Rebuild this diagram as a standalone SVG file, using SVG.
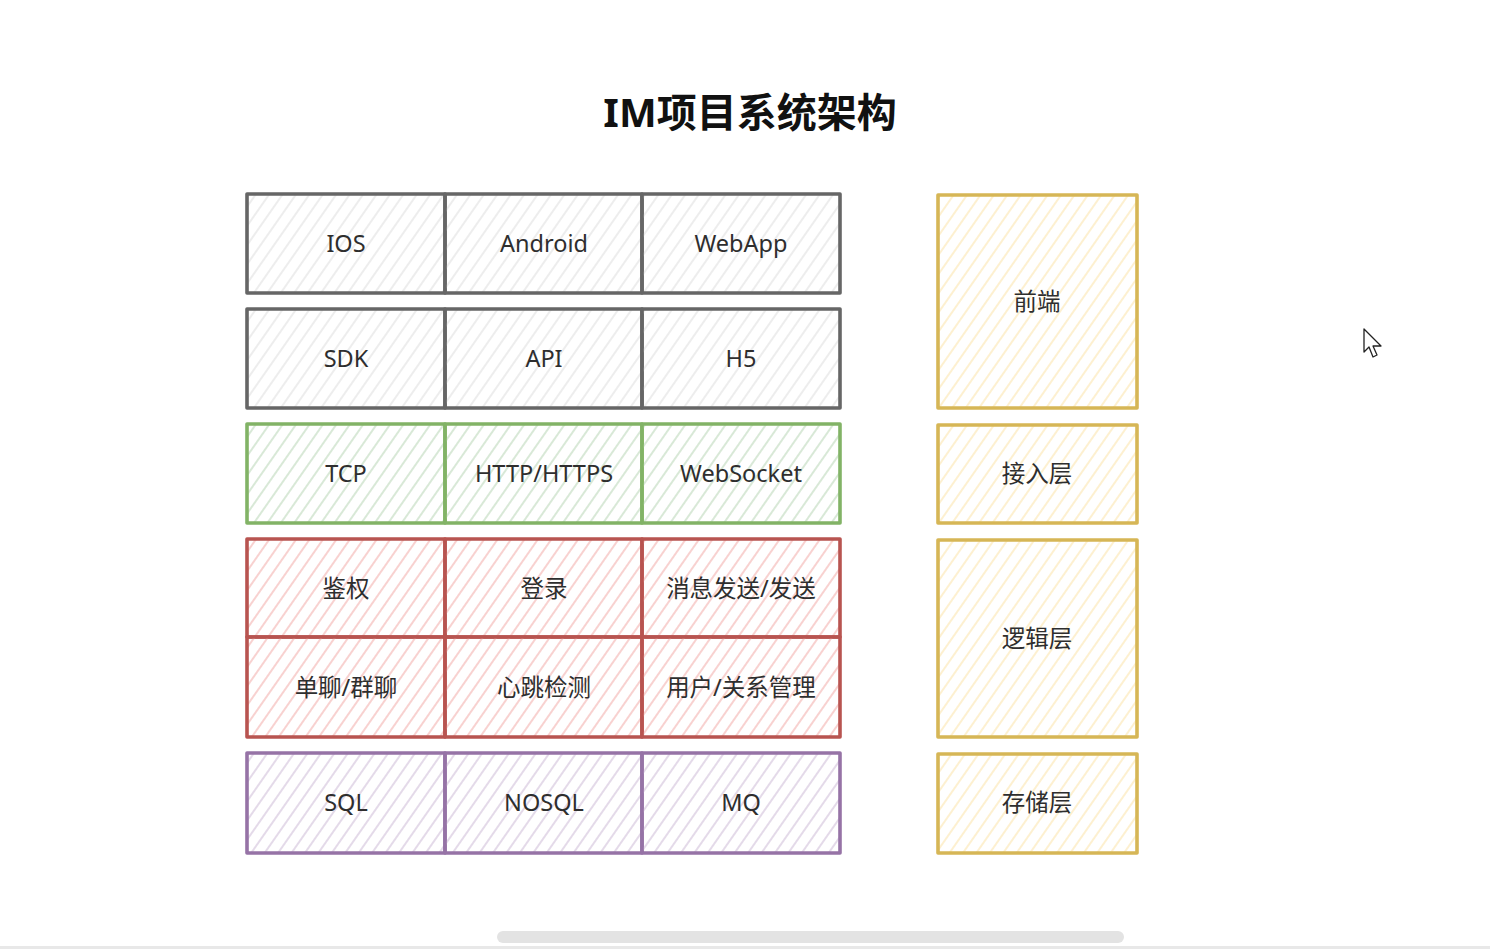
<svg xmlns="http://www.w3.org/2000/svg" width="1490" height="949" viewBox="0 0 1490 949">
<defs>
<pattern id="hGrey" width="11" height="11" patternUnits="userSpaceOnUse" patternTransform="rotate(35)"><line x1="2" y1="0" x2="2" y2="11" stroke="#e6e6e6" stroke-width="1.4"/></pattern>
<pattern id="hGreen" width="11" height="11" patternUnits="userSpaceOnUse" patternTransform="rotate(35)"><line x1="2" y1="0" x2="2" y2="11" stroke="#cfe3cd" stroke-width="1.6"/></pattern>
<pattern id="hRed" width="11" height="11" patternUnits="userSpaceOnUse" patternTransform="rotate(35)"><line x1="2" y1="0" x2="2" y2="11" stroke="#f6c6c4" stroke-width="1.6"/></pattern>
<pattern id="hPurple" width="11" height="11" patternUnits="userSpaceOnUse" patternTransform="rotate(35)"><line x1="2" y1="0" x2="2" y2="11" stroke="#ddd1e4" stroke-width="1.6"/></pattern>
<pattern id="hYellow" width="11" height="11" patternUnits="userSpaceOnUse" patternTransform="rotate(35)"><line x1="2" y1="0" x2="2" y2="11" stroke="#fdedc4" stroke-width="1.6"/></pattern>
</defs>
<style>
.box{stroke-width:3.6;stroke-linejoin:round}
.g{fill:url(#hGrey);stroke:#666666}
.gr{fill:url(#hGreen);stroke:#82b366}
.r{fill:url(#hRed);stroke:#b85450}
.p{fill:url(#hPurple);stroke:#9673a6}
.y{fill:url(#hYellow);stroke:#d6b656}
.t{font-family:"Noto Sans","Open Sans","Noto Sans CJK SC",sans-serif;font-size:23.5px;fill:#2e2e2e;text-anchor:middle;dominant-baseline:central}
.title{font-family:"Noto Sans","Noto Sans CJK SC",sans-serif;font-size:40px;font-weight:bold;fill:#111111;text-anchor:middle}
</style>
<rect width="1490" height="949" fill="#ffffff"/>
<text class="title" x="750" y="127">IM项目系统架构</text>

<g id="ios"><rect class="box g" x="247" y="194" width="198" height="99"/><text class="t" x="346" y="243">IOS</text></g>
<g id="android"><rect class="box g" x="445" y="194" width="197" height="99"/><text class="t" x="544" y="243">Android</text></g>
<g id="webapp"><rect class="box g" x="642" y="194" width="198" height="99"/><text class="t" x="741" y="243">WebApp</text></g>

<g id="sdk"><rect class="box g" x="247" y="309" width="198" height="99"/><text class="t" x="346" y="358">SDK</text></g>
<g id="api"><rect class="box g" x="445" y="309" width="197" height="99"/><text class="t" x="544" y="358">API</text></g>
<g id="h5"><rect class="box g" x="642" y="309" width="198" height="99"/><text class="t" x="741" y="358">H5</text></g>

<g id="tcp"><rect class="box gr" x="247" y="424" width="198" height="99"/><text class="t" x="346" y="473">TCP</text></g>
<g id="http"><rect class="box gr" x="445" y="424" width="197" height="99"/><text class="t" x="544" y="473">HTTP/HTTPS</text></g>
<g id="websocket"><rect class="box gr" x="642" y="424" width="198" height="99"/><text class="t" x="741" y="473">WebSocket</text></g>

<g id="auth"><rect class="box r" x="247" y="539" width="198" height="98"/><text class="t" x="346" y="588">鉴权</text></g>
<g id="login"><rect class="box r" x="445" y="539" width="197" height="98"/><text class="t" x="544" y="588">登录</text></g>
<g id="msg"><rect class="box r" x="642" y="539" width="198" height="98"/><text class="t" x="741" y="588">消息发送/发送</text></g>

<g id="chat"><rect class="box r" x="247" y="637" width="198" height="100"/><text class="t" x="346" y="687">单聊/群聊</text></g>
<g id="heartbeat"><rect class="box r" x="445" y="637" width="197" height="100"/><text class="t" x="544" y="687">心跳检测</text></g>
<g id="user"><rect class="box r" x="642" y="637" width="198" height="100"/><text class="t" x="741" y="687">用户/关系管理</text></g>

<g id="sql"><rect class="box p" x="247" y="753" width="198" height="100"/><text class="t" x="346" y="802">SQL</text></g>
<g id="nosql"><rect class="box p" x="445" y="753" width="197" height="100"/><text class="t" x="544" y="802">NOSQL</text></g>
<g id="mq"><rect class="box p" x="642" y="753" width="198" height="100"/><text class="t" x="741" y="802">MQ</text></g>

<g id="frontend"><rect class="box y" x="938" y="195" width="199" height="213"/><text class="t" x="1037" y="301">前端</text></g>
<g id="access"><rect class="box y" x="938" y="425" width="199" height="98"/><text class="t" x="1037" y="473">接入层</text></g>
<g id="logic"><rect class="box y" x="938" y="540" width="199" height="197"/><text class="t" x="1037" y="638">逻辑层</text></g>
<g id="storage"><rect class="box y" x="938" y="754" width="199" height="99"/><text class="t" x="1037" y="802">存储层</text></g>

<g id="connectors"></g>

<polygon points="1364,329 1364,352 1369,347 1373,357 1377,355 1373,346 1381,346" fill="#ffffff" stroke="#222222" stroke-width="1.3" stroke-linejoin="round"/>
<rect x="497" y="931" width="627" height="12" rx="6" fill="#e3e3e3"/>
<rect x="0" y="946" width="1490" height="3" fill="#e8e8e8"/>
</svg>
